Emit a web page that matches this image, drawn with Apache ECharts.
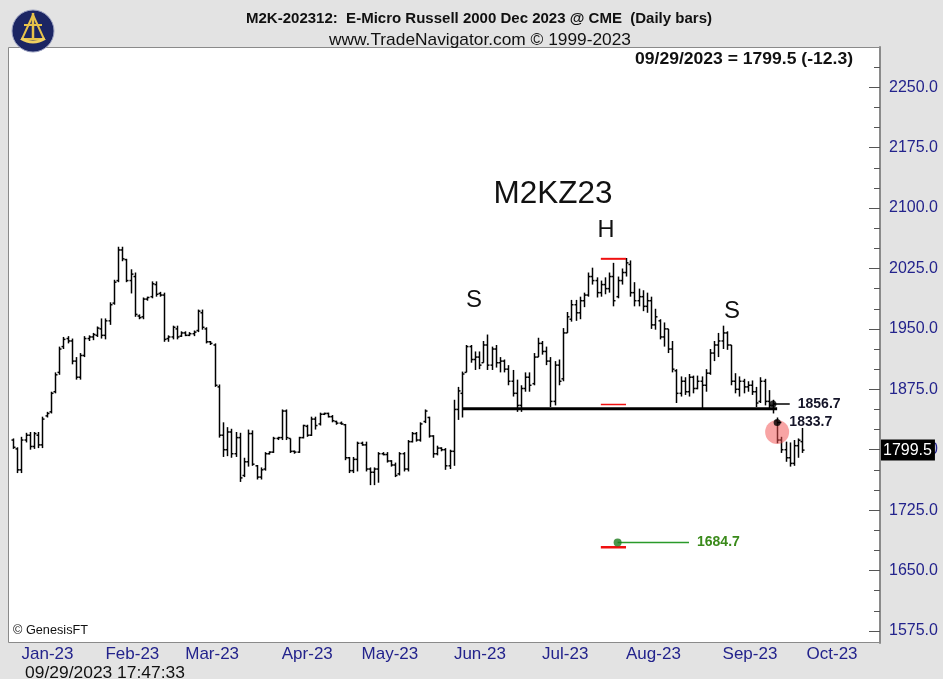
<!doctype html>
<html lang="en">
<head>
<meta charset="UTF-8" />
<title>M2K-202312 E-Micro Russell 2000 - Daily bars</title>
<script src="https://cdn.jsdelivr.net/npm/echarts@6.0.0/dist/echarts.min.js"></script>
<style>
  html, body { margin: 0; padding: 0; background: #e3e3e3; }
  #main { width: 943px; height: 679px; }
</style>
</head>
<body>
<div id="main"></div>
<script>
// daily bars, 29 Dec 2022 .. 29 Sep 2023
const opens = [
  1812,1801,1775,1812,1818,1804,1818,1806,1842,1847,1872,1896,1928,1938,1935,1910,1890,1917,1938,1940,
  1942,1950,1942,1960,1982,2010,2048,2036,2010,2015,1966,1965,1987,1990,2005,1994,1992,1938,1940,1950,
  1941,1945,1942,1944,1948,1970,1950,1934,1930,1878,1818,1800,1822,1795,1815,1768,1785,1820,1780,1766,
  1776,1795,1797,1814,1815,1848,1814,1798,1797,1815,1829,1818,1838,1832,1844,1845,1841,1835,1833,1831,
  1790,1774,1788,1808,1806,1776,1772,1776,1795,1794,1786,1781,1770,1795,1776,1810,1820,1812,1835,1840,
  1817,1795,1802,1800,1780,1798,1850,1870,1896,1928,1912,1915,1908,1930,1905,1925,1908,1910,1900,1885,
  1870,1855,1876,1890,1882,1915,1932,1922,1910,1860,1905,1888,1945,1962,1980,1970,1985,1992,2015,2010,
  1995,2005,2000,2015,1990,2010,2020,2030,1995,1985,1990,1978,1985,1955,1960,1940,1950,1925,1898,1870,
  1885,1872,1890,1876,1885,1880,1895,1920,1930,1935,1945,1930,1885,1875,1885,1878,1880,1872,1860,1885,
  1860,1855,1836,1812,1800,1790,1783,1805,1810
];
const highs = [
  1814,1803,1816,1821,1822,1822,1822,1841,1847,1872,1896,1928,1940,1941,1938,1915,1920,1941,1942,1945,
  1953,1963,1963,1983,2011,2052,2052,2037,2024,2020,1968,1989,1990,2009,2009,1996,1995,1942,1954,1954,
  1947,1947,1946,1948,1974,1974,1952,1935,1932,1881,1834,1828,1826,1822,1821,1790,1825,1824,1781,1778,
  1797,1798,1816,1816,1850,1850,1814,1799,1816,1831,1831,1841,1841,1846,1846,1846,1843,1836,1835,1832,
  1791,1791,1810,1810,1810,1778,1778,1797,1797,1797,1787,1784,1797,1797,1812,1822,1822,1834,1850,1841,
  1818,1805,1803,1802,1800,1862,1878,1897,1930,1930,1922,1922,1935,1943,1928,1930,1915,1912,1905,1899,
  1887,1880,1896,1896,1920,1939,1935,1928,1915,1910,1912,1951,1971,1986,1986,1990,1995,2020,2026,2014,
  2010,2014,2020,2032,2015,2025,2038,2035,2008,2000,1998,1995,1990,1975,1962,1958,1950,1935,1900,1891,
  1890,1894,1892,1892,1891,1900,1925,1935,1945,1954,1947,1930,1895,1891,1888,1885,1886,1878,1890,1888,
  1874,1862,1840,1816,1810,1809,1812,1814,1827
];
const lows = [
  1801,1771,1771,1809,1800,1801,1802,1802,1840,1845,1870,1893,1925,1932,1906,1887,1887,1915,1935,1936,
  1940,1938,1937,1955,1980,2008,2034,2008,1994,1965,1962,1962,1985,1988,1990,1990,1934,1934,1937,1937,
  1940,1941,1941,1941,1946,1949,1932,1930,1878,1815,1791,1792,1790,1791,1760,1766,1779,1780,1763,1763,
  1774,1794,1796,1812,1812,1812,1796,1795,1796,1814,1816,1817,1825,1830,1843,1840,1834,1831,1831,1787,
  1771,1771,1773,1805,1773,1756,1756,1759,1793,1784,1779,1766,1768,1773,1773,1809,1810,1810,1833,1815,
  1790,1793,1798,1775,1776,1780,1837,1840,1896,1908,1899,1900,1908,1899,1899,1902,1896,1896,1880,1866,
  1847,1847,1872,1872,1880,1915,1918,1905,1853,1855,1880,1885,1945,1959,1960,1962,1977,1990,2005,1989,
  1990,1993,1995,1978,1988,2005,2015,1990,1978,1978,1972,1970,1950,1949,1937,1928,1920,1896,1858,1866,
  1868,1866,1870,1875,1850,1872,1893,1910,1915,1925,1924,1880,1870,1866,1870,1872,1868,1853,1858,1855,
  1850,1845,1808,1796,1785,1779,1780,1790,1796
];
const closes = [
  1803,1775,1812,1818,1804,1820,1806,1838,1845,1870,1893,1925,1937,1935,1910,1890,1917,1938,1940,1943,
  1951,1942,1960,1980,2008,2048,2037,2010,2018,1968,1964,1987,1989,2006,1993,1992,1937,1940,1952,1940,
  1945,1942,1944,1946,1972,1952,1934,1932,1880,1818,1800,1822,1795,1815,1765,1785,1820,1782,1766,1775,
  1795,1797,1814,1815,1848,1815,1798,1797,1815,1830,1818,1838,1830,1844,1845,1841,1836,1833,1832,1790,
  1774,1788,1808,1806,1776,1772,1776,1795,1794,1786,1781,1768,1795,1776,1810,1820,1812,1832,1848,1817,
  1795,1802,1800,1780,1798,1850,1873,1894,1928,1912,1915,1905,1930,1905,1925,1908,1910,1900,1885,1870,
  1855,1876,1890,1880,1915,1932,1922,1910,1860,1905,1885,1945,1965,1980,1970,1985,1992,2015,2010,1995,
  2005,2000,2015,1985,2010,2020,2032,1995,1985,1990,1978,1985,1955,1965,1940,1950,1925,1900,1870,1885,
  1872,1890,1876,1885,1880,1895,1920,1930,1935,1945,1930,1885,1875,1885,1878,1880,1872,1858,1885,1860,
  1855,1857,1812,1800,1790,1783,1805,1811.8,1799.5
];

// empty slots to the right of the last bar (October)
const extraSlots = 18;

// x-axis tick labels and the bar index each one sits on
const monthLabels = ['Jan-23','Feb-23','Mar-23','Apr-23','May-23','Jun-23','Jul-23','Aug-23','Sep-23','Oct-23'];
const monthStartIdx = [2, 22, 41, 64, 83, 105, 126, 146, 169, 189];

// y-axis tick labels
const yTickValues = [1575, 1650, 1725, 1800, 1875, 1950, 2025, 2100, 2175, 2250];
const yMinorValues = [1575,1600,1625,1650,1675,1700,1725,1750,1775,1800,1825,1850,1875,1900,1925,1950,
  1975,2000,2025,2050,2075,2100,2125,2150,2175,2200,2225,2250,2275];

// head & shoulders annotations
const lastPrice = 1799.5;
const neckLevel = 1851;
const neckSpan = [107, 182];
const headLevel = 2037;
const headMarkSpan = [140, 146];
const midLevel = 1856;
const targetRedLevel = 1679;
const targetLevel = 1684.7;
const targetSpan = [144, 161];
const breakHigh = 1856.7;
const breakHighSpan = [181, 185];
const breakLow = 1833.7;
const breakLowSpan = [182, 183];
const circleLevel = 1822;

const slots = Array.from({ length: opens.length + extraSlots }, (_, i) => String(i));
const barData = opens.map((o, i) => [i, o, closes[i], lows[i], highs[i]]);

const measureCtx = document.createElement('canvas').getContext('2d');
function fitScale(text, font, target) {
  measureCtx.font = font;
  return target / measureCtx.measureText(text).width;
}
function fitText(text, font, target, x, y, fill, align) {
  return {
    type: 'text', x: x, y: y, z: 100,
    scaleX: fitScale(text, font, target),
    style: { text: text, font: font, fill: fill || '#000', textAlign: align || 'center', textVerticalAlign: 'middle' }
  };
}

const myChart = echarts.init(document.getElementById('main'));

const axisBlue = '#23238c';
const sans = '"Liberation Sans", Arial, sans-serif';

function hLine(span, level, color, width) {
  return {
    type: 'line', data: [[span[0], level], [span[1], level]],
    symbol: 'none', silent: true, z: 5,
    lineStyle: { color: color, width: width }
  };
}
function valueLabel(value, color) {
  return {
    show: true, formatter: value.toFixed(1), distance: 8,
    color: color, fontFamily: sans, fontWeight: 'bold', fontSize: 14
  };
}

const options = {
  backgroundColor: '#e3e3e3',
  animation: false,
  grid: { left: 11, right: 63, top: 47, bottom: 36 },
  xAxis: {
    type: 'category',
    data: slots,
    boundaryGap: true,
    axisLine: { show: false },
    axisTick: { show: false },
    splitLine: { show: false },
    axisLabel: {
      interval: (idx) => monthStartIdx.includes(idx),
      formatter: (val, idx) => monthLabels[monthStartIdx.indexOf(idx)] || '',
      align: 'left',
      color: axisBlue,
      fontFamily: sans,
      fontSize: 17,
      margin: 3
    }
  },
  yAxis: [
    {
      type: 'value', position: 'right', min: 1560, max: 2300, z: 1,
      axisLine: { show: true, lineStyle: { color: '#8a8a8a', width: 2 } },
      axisTick: { show: true, inside: true, length: 11, customValues: yTickValues, lineStyle: { color: '#555' } },
      axisLabel: {
        customValues: yTickValues, formatter: (v) => v.toFixed(1),
        color: axisBlue, fontFamily: sans, fontSize: 16, margin: 9
      },
      splitLine: { show: false }
    },
    {
      type: 'value', position: 'right', min: 1560, max: 2300, z: 1,
      axisLine: { show: false },
      axisTick: { show: true, inside: true, length: 6, customValues: yMinorValues, lineStyle: { color: '#555' } },
      axisLabel: { show: false },
      splitLine: { show: false }
    },
    {
      type: 'value', position: 'right', min: 1560, max: 2300, z: 10,
      axisLine: { show: false },
      axisTick: { show: false },
      axisLabel: {
        customValues: [lastPrice], formatter: (v) => v.toFixed(1),
        color: '#fff', backgroundColor: '#000', padding: [3, 3, 2, 2],
        fontFamily: sans, fontSize: 16, margin: 1
      },
      splitLine: { show: false }
    }
  ],
  series: [
    {
      name: 'M2KZ23',
      type: 'custom',
      data: barData,
      encode: { x: 0, y: [1, 2, 3, 4] },
      z: 3,
      renderItem: (params, api) => {
        const i = api.value(0);
        const top = api.coord([i, api.value(4)]);
        const bot = api.coord([i, api.value(3)]);
        const op = api.coord([i, api.value(1)]);
        const cl = api.coord([i, api.value(2)]);
        const half = Math.max(2, api.size([1, 0])[0] * 0.45);
        const x = Math.round(top[0]) + 0.5;
        const style = { stroke: '#000', lineWidth: 1.5 };
        return {
          type: 'group',
          children: [
            { type: 'line', shape: { x1: x, y1: top[1], x2: x, y2: bot[1] }, style: style },
            { type: 'line', shape: { x1: x - half, y1: op[1], x2: x, y2: op[1] }, style: style },
            { type: 'line', shape: { x1: x, y1: cl[1], x2: x + half, y2: cl[1] }, style: style }
          ]
        };
      }
    },
    hLine(neckSpan, neckLevel, '#000', 3),
    hLine(headMarkSpan, headLevel, '#f01010', 2),
    hLine(headMarkSpan, midLevel, '#f01010', 1.5),
    hLine(headMarkSpan, targetRedLevel, '#f01010', 2.5),
    Object.assign(hLine(targetSpan, targetLevel, '#2a9a2a', 1.5), { endLabel: valueLabel(targetLevel, '#3a8a1a') }),
    Object.assign(hLine(breakHighSpan, breakHigh, '#000', 1.5), { endLabel: valueLabel(breakHigh, '#141428') }),
    Object.assign(hLine(breakLowSpan, breakLow, '#000', 1.5), { endLabel: valueLabel(breakLow, '#141428') }),
    {
      type: 'scatter', silent: true, z: 4,
      data: [[breakLowSpan[0], circleLevel]],
      symbolSize: 24,
      itemStyle: { color: 'rgba(242, 80, 80, 0.65)' }
    },
    {
      type: 'scatter', silent: true, z: 6,
      data: [[breakHighSpan[0], breakHigh], [breakLowSpan[0], breakLow]],
      symbolSize: 7,
      itemStyle: { color: '#000' }
    },
    {
      type: 'scatter', silent: true, z: 6,
      data: [[targetSpan[0], targetLevel]],
      symbolSize: 8,
      itemStyle: { color: '#1e7d1e' }
    }
  ],
  graphic: [
    // plot frame
    {
      type: 'rect', z: -10, silent: true,
      shape: { x: 8.5, y: 47.5, width: 871, height: 595 },
      style: { fill: '#fff', stroke: '#8a8a8a', lineWidth: 1 }
    },
    // logo
    {
      type: 'group', z: 100,
      children: [
        { type: 'circle', shape: { cx: 33, cy: 31, r: 21 }, style: { fill: '#1b2563', stroke: '#9aa0c0', lineWidth: 1 } },
        { type: 'polygon', shape: { points: [[33, 15], [22, 39], [44, 39]] }, style: { fill: 'none', stroke: '#e6c24a', lineWidth: 2 } },
        { type: 'line', shape: { x1: 33, y1: 13, x2: 33, y2: 40 }, style: { stroke: '#e6c24a', lineWidth: 2.5 } },
        { type: 'arc', shape: { cx: 33, cy: 20, r: 22, startAngle: Math.PI * 0.32, endAngle: Math.PI * 0.68 }, style: { fill: 'none', stroke: '#f0d060', lineWidth: 3 } },
        { type: 'line', shape: { x1: 24, y1: 25, x2: 42, y2: 25 }, style: { stroke: '#e6c24a', lineWidth: 2 } }
      ]
    },
    fitText('M2K-202312:  E-Micro Russell 2000 Dec 2023 @ CME  (Daily bars)', 'bold 15px ' + sans, 466, 479, 19, '#111'),
    fitText('www.TradeNavigator.com \u00a9 1999-2023', '17px ' + sans, 302, 480, 40, '#111'),
    fitText('09/29/2023 = 1799.5 (-12.3)', 'bold 16px ' + sans, 218, 744, 60, '#111'),
    fitText('M2KZ23', '31px ' + sans, 119, 553, 194, '#111'),
    fitText('H', '24px ' + sans, 17, 606, 230, '#111'),
    fitText('S', '24px ' + sans, 16, 474, 300, '#111'),
    fitText('S', '24px ' + sans, 16, 732, 311, '#111'),
    fitText('\u00a9 GenesisFT', '13px ' + sans, 75, 13, 630, '#111', 'left'),
    fitText('09/29/2023 17:47:33', '16px ' + sans, 160, 25, 674, '#111', 'left')
  ]
};

myChart.setOption(options);
</script>
</body>
</html>
